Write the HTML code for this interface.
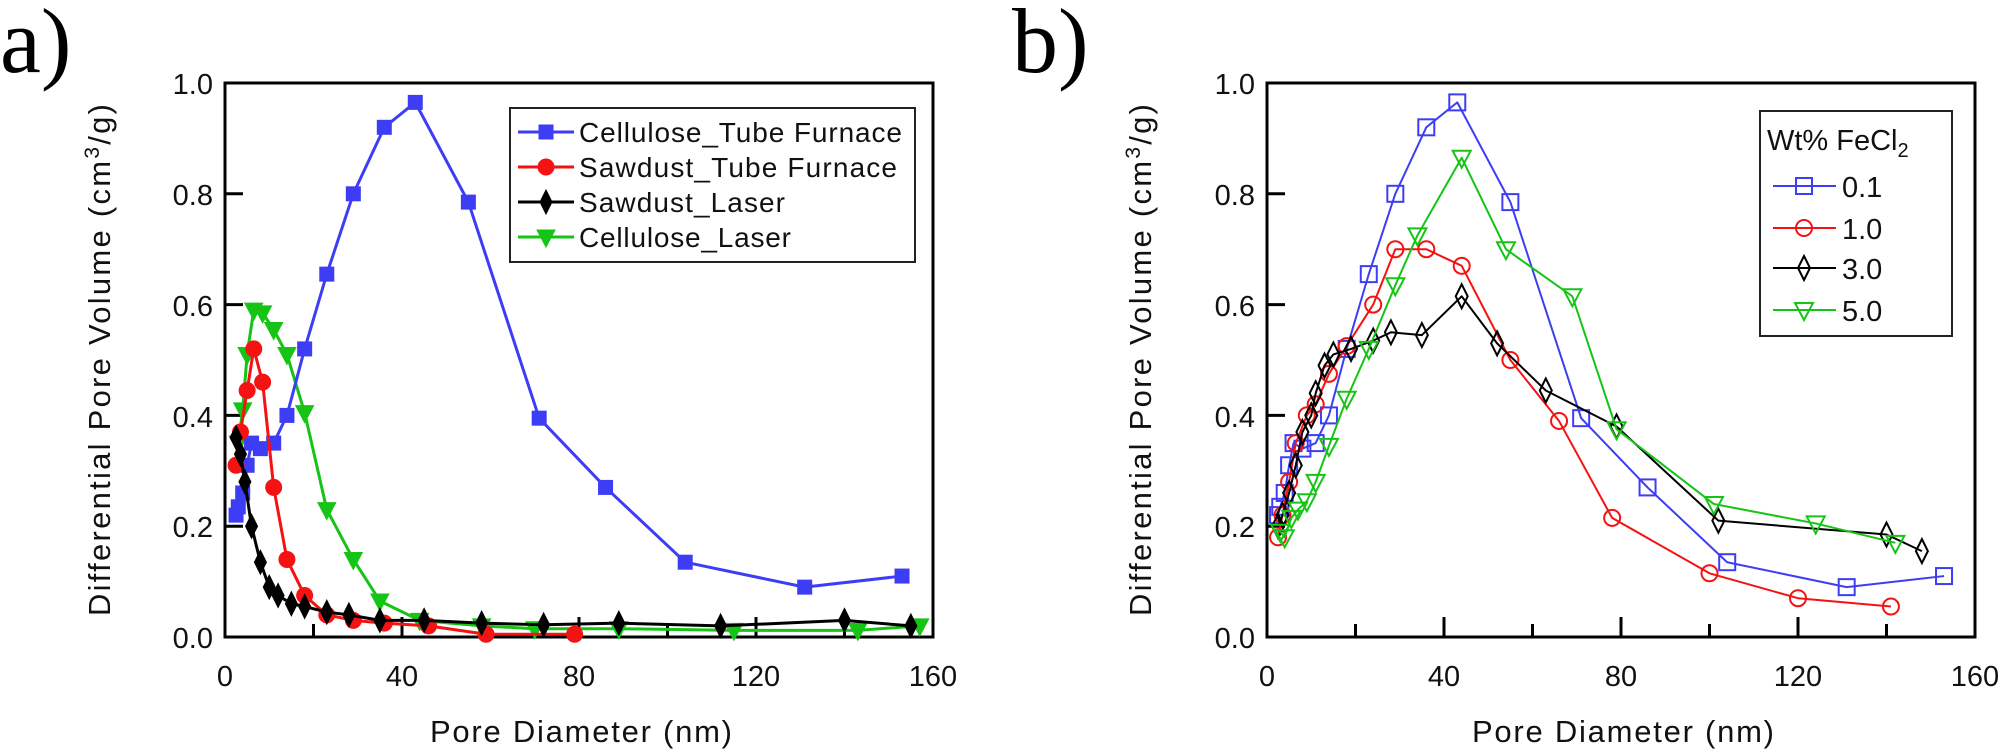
<!DOCTYPE html>
<html><head><meta charset="utf-8"><style>
html,body{margin:0;padding:0;background:#fff;}
svg{display:block;font-family:"Liberation Sans",Arial,sans-serif;}
</style></head><body>
<svg id="s" width="2008" height="754" viewBox="0 0 2008 754" xmlns="http://www.w3.org/2000/svg">
<rect width="2008" height="754" fill="#fff"/>
<text x="0" y="72" font-family="Liberation Serif,serif" font-size="92">a)</text>
<text x="1012" y="72" font-family="Liberation Serif,serif" font-size="92">b)</text>
<g font-size="29" fill="#111">
<text x="213" y="94" text-anchor="end">1.0</text>
<text x="213" y="205" text-anchor="end">0.8</text>
<text x="213" y="316" text-anchor="end">0.6</text>
<text x="213" y="427" text-anchor="end">0.4</text>
<text x="213" y="537" text-anchor="end">0.2</text>
<text x="213" y="648" text-anchor="end">0.0</text>
<text x="225" y="686" text-anchor="middle">0</text>
<text x="402" y="686" text-anchor="middle">40</text>
<text x="579" y="686" text-anchor="middle">80</text>
<text x="756" y="686" text-anchor="middle">120</text>
<text x="933" y="686" text-anchor="middle">160</text>
<text x="1255" y="94" text-anchor="end">1.0</text>
<text x="1255" y="205" text-anchor="end">0.8</text>
<text x="1255" y="316" text-anchor="end">0.6</text>
<text x="1255" y="427" text-anchor="end">0.4</text>
<text x="1255" y="537" text-anchor="end">0.2</text>
<text x="1255" y="648" text-anchor="end">0.0</text>
<text x="1267" y="686" text-anchor="middle">0</text>
<text x="1444" y="686" text-anchor="middle">40</text>
<text x="1621" y="686" text-anchor="middle">80</text>
<text x="1798" y="686" text-anchor="middle">120</text>
<text x="1975" y="686" text-anchor="middle">160</text>
</g>
<g font-size="31" fill="#111">
<text x="581" y="742" text-anchor="middle" textLength="302">Pore Diameter (nm)</text>
<text x="1623" y="742" text-anchor="middle" textLength="302">Pore Diameter (nm)</text>
<text transform="translate(110,360) rotate(-90)" text-anchor="middle" textLength="512">Differential Pore Volume (cm<tspan dy="-11" font-size="21">3</tspan><tspan dy="11">/g)</tspan></text>
<text transform="translate(1151,360) rotate(-90)" text-anchor="middle" textLength="512">Differential Pore Volume (cm<tspan dy="-11" font-size="21">3</tspan><tspan dy="11">/g)</tspan></text>
</g>
<g fill="none" stroke="#000" stroke-width="3">
<rect x="225" y="83" width="708" height="554"/>
<rect x="1267" y="83" width="708" height="554"/>
</g>
<g id="dyn"></g>
<rect x="510" y="108" width="405" height="154" fill="#fff" stroke="#222" stroke-width="2"/>
<g font-size="28" fill="#111">
<text x="579" y="142" textLength="323">Cellulose_Tube Furnace</text>
<text x="579" y="177" textLength="318">Sawdust_Tube Furnace</text>
<text x="579" y="212" textLength="206">Sawdust_Laser</text>
<text x="579" y="247" textLength="212">Cellulose_Laser</text>
</g>
<rect x="1760" y="111" width="192" height="225" fill="#fff" stroke="#222" stroke-width="2"/>
<g font-size="29" fill="#111">
<text x="1767" y="150">Wt% FeCl<tspan dy="7" font-size="20">2</tspan></text>
<text x="1842" y="197">0.1</text>
<text x="1842" y="239">1.0</text>
<text x="1842" y="279">3.0</text>
<text x="1842" y="321">5.0</text>
</g>
<g id="leg"></g>
<script>
var NS="http://www.w3.org/2000/svg";
function el(p,t,a){var e=document.createElementNS(NS,t);for(var k in a)e.setAttribute(k,a[k]);p.appendChild(e);return e;}
var dyn=document.getElementById('dyn'),leg=document.getElementById('leg');
[[225],[1267]].forEach(function(o){var x0=o[0];
 for(var v=20;v<160;v+=20){var x=x0+v*4.425;var L=(v%40==0)?20:13;el(dyn,'line',{x1:x,y1:637,x2:x,y2:637-L,stroke:'#000','stroke-width':3});}
 for(var k=1;k<5;k++){var y=637-k*0.2*554;el(dyn,'line',{x1:x0,y1:y,x2:x0+18,y2:y,stroke:'#000','stroke-width':3});}
});
function marker(g,type,x,y,c,fill,sw){
 var f=fill?c:'none';
 if(type=='sq'){var h=fill?7:8;el(g,'rect',{x:x-h,y:y-h,width:2*h,height:2*h,fill:fill?c:'none',stroke:c,'stroke-width':sw});}
 else if(type=='ci'){el(g,'circle',{cx:x,cy:y,r:8,fill:f,stroke:c,'stroke-width':sw});}
 else if(type=='di'){el(g,'polygon',{points:(x)+','+(y-12)+' '+(x+6)+','+y+' '+x+','+(y+12)+' '+(x-6)+','+y,fill:f,stroke:c,'stroke-width':sw});}
 else if(type=='tr'){el(g,'polygon',{points:(x-9)+','+(y-7)+' '+(x+9)+','+(y-7)+' '+x+','+(y+10),fill:f,stroke:c,'stroke-width':sw});}
}
function series(x0,data,c,type,fill,lw){
 var pts=data.map(function(d){return [x0+d[0]*4.425,637-d[1]*554];});
 el(dyn,'polyline',{points:pts.map(function(p){return p.join(',')}).join(' '),fill:'none',stroke:c,'stroke-width':lw,'stroke-linejoin':'round'});
 pts.forEach(function(p){marker(dyn,type,p[0],p[1],c,fill,fill?1:2);});
}
var B='#3d3df5',R='#f51212',K='#000',G='#16c416';
var blue=[[2.5,.22],[3,.235],[4,.26],[5,.31],[6,.35],[8,.34],[11,.35],[14,.40],[18,.52],[23,.655],[29,.80],[36,.92],[43,.965],[55,.785],[71,.395],[86,.27],[104,.135],[131,.09],[153,.11]];
series(225,[[3,.35],[4,.41],[5,.51],[6.5,.59],[8.5,.585],[11,.555],[14,.51],[18,.405],[23,.23],[29,.14],[35,.065],[44,.03],[58,.02],[70,.015],[89,.015],[115,.012],[143,.012],[157,.02]],G,'tr',true,3);
series(225,blue,B,'sq',true,3);
series(225,[[2.5,.31],[3.5,.37],[5,.445],[6.5,.52],[8.5,.46],[11,.27],[14,.14],[18,.075],[23,.04],[29,.03],[36,.025],[46,.02],[59,.005],[79,.005]],R,'ci',true,3);
series(225,[[2.5,.36],[3.5,.33],[4.5,.28],[6,.2],[8,.135],[10,.09],[12,.075],[15,.06],[18,.055],[23,.045],[28,.04],[35,.03],[45,.03],[58,.025],[72,.022],[89,.025],[112,.02],[140,.03],[155,.02]],K,'di',true,3);
series(1267,blue,B,'sq',false,2);
series(1267,[[2.5,.18],[3.5,.22],[5,.28],[6.5,.35],[9,.40],[11,.42],[14,.475],[18,.525],[24,.60],[29,.70],[36,.70],[44,.67],[55,.50],[66,.39],[78,.215],[100,.115],[120,.07],[141,.055]],R,'ci',false,2);
series(1267,[[2.5,.20],[3.5,.22],[5,.26],[6.5,.31],[8,.37],[10,.40],[11,.44],[13,.49],[15,.51],[19,.52],[24,.535],[28,.55],[35,.545],[44,.615],[52,.53],[63,.445],[79,.38],[102,.21],[140,.185],[148,.155]],K,'di',false,2);
series(1267,[[3,.19],[4,.18],[5.5,.215],[7,.23],[9,.245],[11,.28],[14,.345],[18,.43],[23,.52],[29,.635],[34,.725],[44,.865],[54,.70],[69,.615],[79,.375],[101,.24],[124,.205],[142,.17]],G,'tr',false,2);
[[B,'sq'],[R,'ci'],[K,'di'],[G,'tr']].forEach(function(s,i){var y=132+i*35;
 el(leg,'line',{x1:518,y1:y,x2:574,y2:y,stroke:s[0],'stroke-width':3});marker(leg,s[1],546,y,s[0],true,1);});
[[B,'sq'],[R,'ci'],[K,'di'],[G,'tr']].forEach(function(s,i){var y=[186,228,268,310][i];
 el(leg,'line',{x1:1773,y1:y,x2:1836,y2:y,stroke:s[0],'stroke-width':2});marker(leg,s[1],1804,y,s[0],false,2);});
</script>
</svg>
</body></html>
